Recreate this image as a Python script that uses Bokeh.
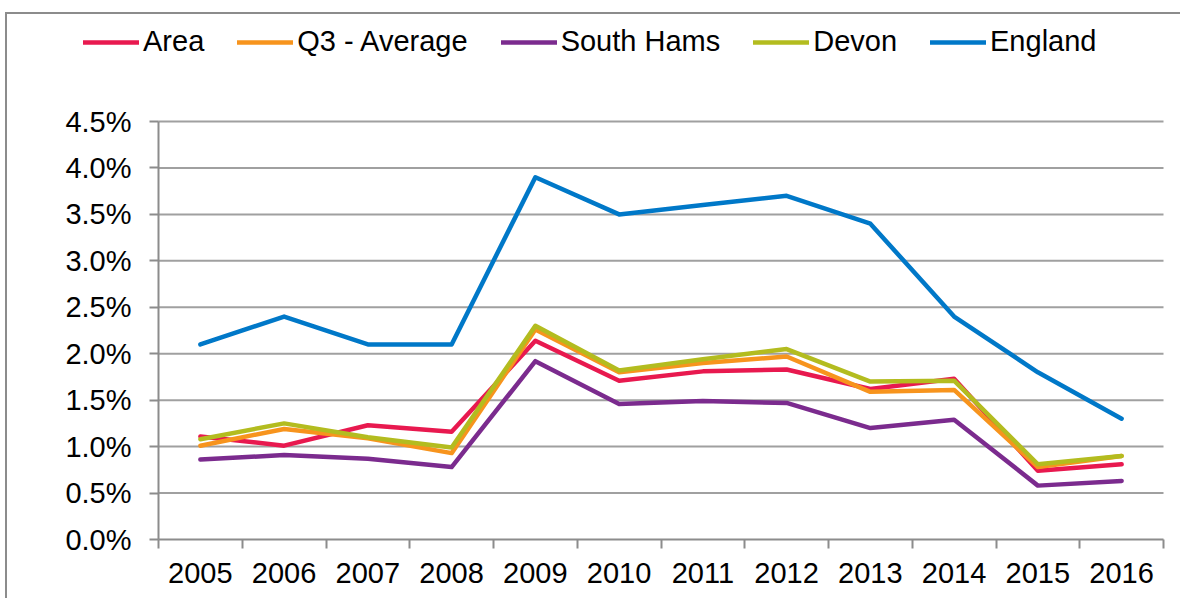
from bokeh.plotting import figure
from bokeh.models import (FixedTicker, NumeralTickFormatter, Legend, LegendItem,
                          Range1d)
from bokeh.embed import file_html
from bokeh.resources import INLINE

years = ["2005", "2006", "2007", "2008", "2009", "2010",
         "2011", "2012", "2013", "2014", "2015", "2016"]

area = [0.0111, 0.0101, 0.0123, 0.0116, 0.0214, 0.0171, 0.0181, 0.0183, 0.0162, 0.0173, 0.0074, 0.0081]
q3_average = [0.0101, 0.0119, 0.0109, 0.0093, 0.0226, 0.0180, 0.0190, 0.0197, 0.0159, 0.0161, 0.0078, 0.0090]
south_hams = [0.0086, 0.0091, 0.0087, 0.0078, 0.0192, 0.0146, 0.0149, 0.0147, 0.0120, 0.0129, 0.0058, 0.0063]
devon = [0.0108, 0.0125, 0.0110, 0.0099, 0.0230, 0.0182, 0.0194, 0.0205, 0.0170, 0.0171, 0.0081, 0.0090]
england = [0.021, 0.024, 0.021, 0.021, 0.039, 0.035, 0.036, 0.037, 0.034, 0.024, 0.018, 0.013]

series_names = ["Area", "Q3 - Average", "South Hams", "Devon", "England"]
series_values = [area, q3_average, south_hams, devon, england]
series_colors = ["#E8194F", "#F7941D", "#7B2B8E", "#B3BC1F", "#0078C8"]

y_ticks = [0.0, 0.005, 0.01, 0.015, 0.02, 0.025, 0.03, 0.035, 0.04, 0.045]

FONT = "Liberation Sans"
GRID = "#A0A0A0"
AXIS = "#8C8C8C"

n = len(years)
xpos = [i + 0.5 for i in range(n)]
y_max = y_ticks[-1]

# canvas geometry (pixels): plot area spans x 151..1156, y 107..525
W, H = 1175, 586
X0, X1, YT, YB = 151, 1156, 107, 525
px_x = (X1 - X0) / n
px_y = (YB - YT) / y_max

p = figure(width=W, height=H, output_backend="svg", toolbar_location=None,
           x_range=Range1d(-X0 / px_x, n + (W - X1) / px_x),
           y_range=Range1d(-(H - YB) / px_y, y_max + YT / px_y),
           min_border=0,
           styles={"margin-left": "5px", "margin-top": "12px",
                   "border-left": "2px solid #8C8C8C",
                   "border-top": "2px solid #8C8C8C"})
p.outline_line_color = None
p.background_fill_color = "white"
p.border_fill_color = "white"
p.xgrid.visible = False
p.ygrid.visible = False

# x axis: labels at category centres, tick marks between categories
p.xaxis.fixed_location = 0
p.xaxis.bounds = (0, n)
p.xaxis.ticker = FixedTicker(ticks=xpos, minor_ticks=list(range(n + 1)))
p.xaxis.major_label_overrides = {x: y for x, y in zip(xpos, years)}
p.xaxis.major_tick_out = 0
p.xaxis.major_tick_in = 0
p.xaxis.minor_tick_out = 9
p.xaxis.minor_tick_in = 0
p.xaxis.minor_tick_line_color = AXIS
p.xaxis.minor_tick_line_width = 2
p.xaxis.axis_line_color = AXIS
p.xaxis.axis_line_width = 2
p.xaxis.major_label_text_font = FONT
p.xaxis.major_label_text_font_size = "29px"
p.xaxis.major_label_text_color = "black"
p.xaxis.major_label_standoff = 14

p.yaxis.fixed_location = 0
p.yaxis.bounds = (0, y_max)
p.yaxis.ticker = FixedTicker(ticks=y_ticks)
p.yaxis.formatter = NumeralTickFormatter(format="0.0%")
p.yaxis.major_tick_out = 9
p.yaxis.major_tick_in = 0
p.yaxis.minor_tick_line_color = None
p.yaxis.major_tick_line_color = AXIS
p.yaxis.major_tick_line_width = 2
p.yaxis.axis_line_color = AXIS
p.yaxis.axis_line_width = 2
p.yaxis.major_label_text_font = FONT
p.yaxis.major_label_text_font_size = "29px"
p.yaxis.major_label_text_color = "black"
p.yaxis.major_label_standoff = 18

# horizontal gridlines, limited to the plotting area
p.segment(x0=0, x1=n, y0=y_ticks[1:], y1=y_ticks[1:], line_color=GRID,
          line_width=2)

items = []
for name, vals, col in zip(series_names, series_values, series_colors):
    r = p.line(xpos, vals, line_color=col, line_width=4.5, line_join="round",
               line_cap="round")
    items.append(LegendItem(label=name, renderers=[r]))

leg_h = 30
legend = Legend(items=items, orientation="horizontal",
                location=(76, H - 29 - leg_h / 2),
                glyph_width=56, glyph_height=leg_h, label_height=leg_h,
                label_standoff=4, spacing=33,
                padding=0, margin=0, border_line_color=None,
                background_fill_alpha=0,
                label_text_font=FONT, label_text_font_size="29px",
                label_text_color="black")
p.add_layout(legend, "center")

open("out.html", "w").write(file_html(p, INLINE))
